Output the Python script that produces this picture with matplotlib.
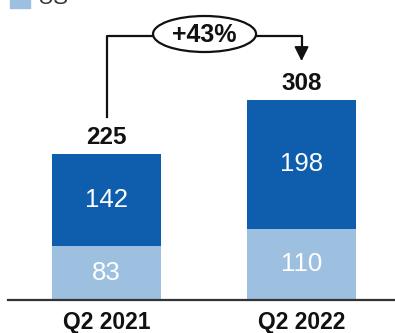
import matplotlib
matplotlib.use("Agg")
import matplotlib.pyplot as plt
from matplotlib.patches import Ellipse, Rectangle

plt.rcParams['font.family'] = ['Liberation Sans', 'DejaVu Sans']

categories = ["Q2 2021", "Q2 2022"]
us_values = [83, 110]
intl_values = [142, 198]
totals = [225, 308]
growth_label = "+43%"
legend_label = "US"

dark_blue = "#0F5EAE"
light_blue = "#9DC0E0"

W, H = 395, 333
fig = plt.figure(figsize=(W / 100, H / 100), dpi=100)

# axes: baseline at 300 px from top, ~0.649 px per unit
base_px = 300
ppu = 0.649
ax = fig.add_axes([8 / W, (H - base_px) / H, (W - 8) / W, base_px / H])
ax.set_ylim(0, base_px / ppu)
ax.set_xlim(-0.505, 1.479)

x = list(range(len(categories)))
bw = 0.56
ax.bar(x, us_values, width=bw, color=light_blue, zorder=2)
ax.bar(x, intl_values, width=bw, bottom=us_values, color=dark_blue, zorder=2)

for xi, u, i, t in zip(x, us_values, intl_values, totals):
    ax.text(xi, u / 2, f"{u}", ha="center", va="center", color="white",
            fontsize=18.5)
    ax.text(xi, u + i / 2, f"{i}", ha="center", va="center", color="white",
            fontsize=18.5)
    ax.text(xi, t + 8, f"{t}", ha="center", va="bottom", color="#111111",
            fontsize=17.5, fontweight="bold")

for s in ["top", "right", "left"]:
    ax.spines[s].set_visible(False)
ax.spines["bottom"].set_color("#333333")
ax.spines["bottom"].set_linewidth(1.6)
ax.set_yticks([])
ax.set_xticks(x)
ax.set_xticklabels(categories, fontsize=16.5, fontweight="bold", color="#111111")
ax.tick_params(axis="x", length=0, pad=8)

# growth connector with ellipse badge
def py(p):
    return (base_px - p) / ppu

line_y = py(36)
left_x, right_x = x[0], x[1]
ex0 = (153 - 106.5) / 195
ex1 = (256 - 106.5) / 195
kw = dict(color="#111111", lw=1.6, clip_on=False, zorder=3)
ax.plot([left_x, left_x, ex0], [py(117), line_y, line_y], **kw)
ax.plot([ex1, right_x, right_x], [line_y, line_y, py(50)], **kw)
ax.annotate("", xy=(right_x, py(61)), xytext=(right_x, py(47)),
            arrowprops=dict(arrowstyle="-|>", color="#111111", lw=1.2,
                            mutation_scale=22, shrinkA=0, shrinkB=0),
            annotation_clip=False)
ecx = (ex0 + ex1) / 2
ell = Ellipse((ecx, py(34)), width=ex1 - ex0, height=36 / ppu,
              facecolor="white", edgecolor="#111111", lw=1.6,
              clip_on=False, zorder=4)
ax.add_patch(ell)
ax.text(ecx, py(35), growth_label, ha="center", va="center",
        fontsize=18, fontweight="bold", color="#111111", zorder=5)

# legend key, partly off the top edge
fig.patches.append(Rectangle((10 / W, (H - 8) / H), 20 / W, 12 / H,
                             transform=fig.transFigure, color=light_blue))
fig.text(37 / W, (H - 9) / H, legend_label, ha="left", va="bottom",
         fontsize=16, color="#333333")

fig.savefig("out.png", dpi=100)
